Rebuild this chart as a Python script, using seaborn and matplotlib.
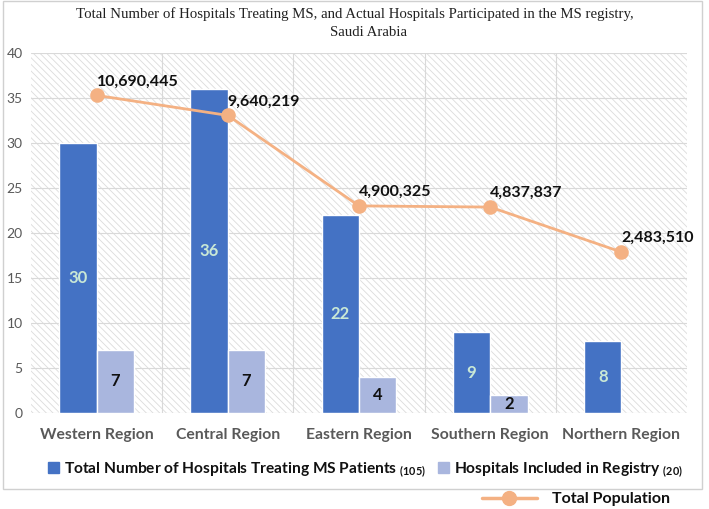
import numpy as np
import pandas as pd
import matplotlib
matplotlib.use("Agg")
import matplotlib.pyplot as plt
from matplotlib.patches import Patch, Rectangle
from matplotlib.lines import Line2D
import seaborn as sns

# chart data
regions = ["Western Region", "Central Region", "Eastern Region", "Southern Region", "Northern Region"]
total_hospitals = [30, 36, 22, 9, 8]
registry_hospitals = [7, 7, 4, 2, 0]
population = [10690445, 9640219, 4900325, 4837837, 2483510]
series_names = ["Total Number of Hospitals Treating MS Patients", "Hospitals Included in Registry"]
series_totals = ["(105)", "(20)"]

dark_blue = "#4472C4"
light_blue = "#A9B6DE"
orange = "#F4B183"
grey_text = "#595959"

sns.set_theme(style="white")
plt.rcParams["font.family"] = ["Lato", "DejaVu Sans"]
plt.rcParams["hatch.linewidth"] = 0.6

df = pd.DataFrame({
    "region": regions * 2,
    "count": total_hospitals + registry_hospitals,
    "series": [series_names[0]] * 5 + [series_names[1]] * 5,
})

fig = plt.figure(figsize=(7.09, 5.09), dpi=100)
ax = fig.add_axes([31 / 709, 1 - 413 / 509, (687 - 31) / 709, (413 - 53) / 509])

# hatched plot background
ax.add_patch(Rectangle((0, 0), 1, 1, transform=ax.transAxes, facecolor="white",
                       edgecolor="#DCDCDC", lw=0, hatch="\\\\\\\\\\", zorder=0.1))

sns.barplot(data=df, x="region", y="count", hue="series", order=regions,
            hue_order=series_names, palette=[dark_blue, light_blue],
            width=0.57, gap=0, saturation=1, ax=ax, legend=False)

ax.set_ylim(0, 40)
ax.set_xlim(-0.5, 4.5)
ax.set_yticks(np.arange(0, 41, 5))
ax.set_xticks(np.arange(4) + 0.5, minor=True)
ax.grid(True, axis="y", which="major", color="#D9D9D9", lw=0.8, zorder=0.5)
ax.grid(True, axis="x", which="minor", color="#D9D9D9", lw=0.8, zorder=0.5)
ax.grid(False, axis="x", which="major")
ax.set_axisbelow(True)
for s in ax.spines.values():
    s.set_visible(False)
ax.tick_params(axis="both", which="both", length=0)
ax.tick_params(axis="y", labelsize=10, labelcolor=grey_text, pad=6)
ax.tick_params(axis="x", labelsize=11.3, labelcolor=grey_text, pad=11)
for t in ax.get_xticklabels():
    t.set_fontweight("bold")
ax.set_xlabel("")
ax.set_ylabel("")

# bar value labels
for cont, vals, col in zip(ax.containers, [total_hospitals, registry_hospitals],
                           ["#C9E8D6", "#111111"]):
    ax.bar_label(cont, labels=[str(v) if v > 0 else "" for v in vals],
                 label_type="center", color=col, fontsize=12, fontweight="bold")

# population line on hidden secondary axis
ax2 = ax.twinx()
sns.pointplot(x=regions, y=population, order=regions, color=orange, markers="o",
              markersize=9, linewidth=2, ax=ax2)
ax2.set_ylim(-5.95e6, 12.91e6)
ax2.set_xlim(-0.5, 4.5)
ax2.axis("off")
for i, p in enumerate(population):
    ax2.annotate(f"{p:,}", (i, p), xytext=(0, 5), textcoords="offset points",
                 ha="left", va="bottom", fontsize=11.5, fontweight="bold", color="#111111")

# title
fig.text(0.5, 1 - 14 / 509, "Total Number of Hospitals Treating MS, and Actual Hospitals Participated in the MS registry,",
         ha="center", va="center", family="Liberation Serif", fontsize=10.7, color="#222222")
fig.text(0.52, 1 - 32 / 509, "Saudi Arabia", ha="center", va="center",
         family="Liberation Serif", fontsize=10.7, color="#222222")

# legends
handles = [Patch(color=dark_blue), Patch(color=light_blue)]
labels = [f"{n} $\\mathregular{{_{{{t}}}}}$" for n, t in zip(series_names, series_totals)]
leg1 = fig.legend(handles, labels, loc="center", bbox_to_anchor=(0.515, 1 - 470 / 509), ncol=2,
                  frameon=False, handlelength=0.7, handleheight=0.7, handletextpad=0.3,
                  columnspacing=0.8, prop={"weight": "bold", "size": 11.2})
for t in leg1.get_texts():
    t.set_color("#111111")
leg2 = fig.legend([Line2D([], [], color=orange, lw=2.5, marker="o", markersize=10)],
                  ["Total Population"], loc="center right", bbox_to_anchor=(0.965, 1 - 499 / 509),
                  frameon=False, handlelength=3.5, handletextpad=0.9,
                  prop={"weight": "bold", "size": 11.5})
for t in leg2.get_texts():
    t.set_color("#111111")

# outer border
fig.add_artist(Rectangle((3 / 709, 1 - 489 / 509), (702 - 3) / 709, 488 / 509,
                         transform=fig.transFigure, fill=False, ec="#D0D0D0", lw=1))

fig.savefig("out.png", dpi=100)
